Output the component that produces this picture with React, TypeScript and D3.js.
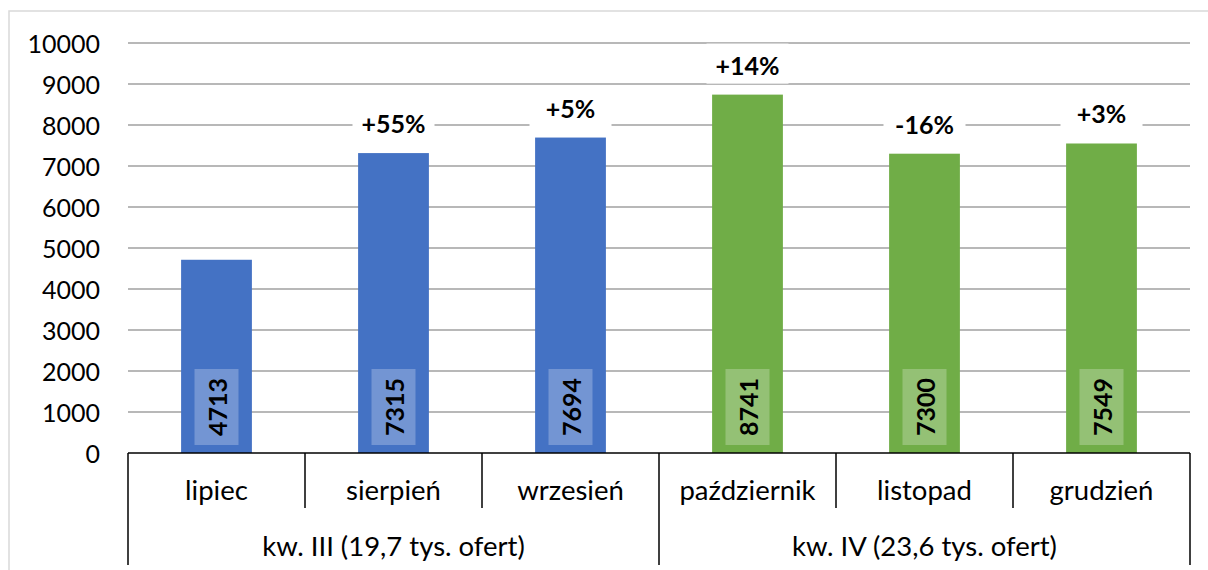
import React from 'react';
import * as d3 from 'd3';

const months = ['lipiec', 'sierpień', 'wrzesień', 'październik', 'listopad', 'grudzień'];
const offers = [4713, 7315, 7694, 8741, 7300, 7549];
const changes = ['', '+55%', '+5%', '+14%', '-16%', '+3%'];
const quarterOf = [0, 0, 0, 1, 1, 1];
const quarters = ['kw. III (19,7 tys. ofert)', 'kw. IV (23,6 tys. ofert)'];
const quarterColors = ['#4472C4', '#70AD47'];
const yTicks = [0, 1000, 2000, 3000, 4000, 5000, 6000, 7000, 8000, 9000, 10000];

const W = 1208;
const H = 570;
const left = 128;
const right = 1190;
const top = 43;
const base = 453;
const font = 'Lato, "Open Sans", sans-serif';

const App = () => {
  const x = d3.scaleBand<string>()
    .domain(months)
    .range([left, right])
    .paddingInner(0.6)
    .paddingOuter(0.3);
  const step = x.step();
  const y = d3.scaleLinear().domain([0, 10000]).range([base, top]);

  // quarter edges: first and last band boundaries of each group
  const edges = d3.range(months.length + 1).map(i => left + i * step);

  return (
    <svg width={W} height={H} style={{ position: 'absolute', left: 0, top: 0, background: '#fff' }}
      fontFamily={font}>
      <rect x={9} y={11} width={W + 20} height={H + 20} fill="none" stroke="#D9D9D9" strokeWidth={1.5} />

      {/* gridlines + tick labels */}
      {yTicks.map(t => (
        <g key={t}>
          {t > 0 && <line x1={left} x2={right} y1={y(t)} y2={y(t)} stroke="#A0A0A0" strokeWidth={1.5} />}
          <text x={100} y={y(t)} textAnchor="end" dominantBaseline="central" fontSize={25} fill="#000">{t}</text>
        </g>
      ))}

      {/* bars */}
      {months.map((m, i) => {
        const bx = x(m)!;
        const bw = x.bandwidth();
        const cx = bx + bw / 2;
        return (
          <g key={m}>
            <rect x={bx} y={y(offers[i])} width={bw} height={base - y(offers[i])} fill={quarterColors[quarterOf[i]]} />
            <rect x={cx - 22} y={base - 84} width={44} height={76} fill="#fff" fillOpacity={0.25} />
            <text transform={`translate(${cx},${base - 46}) rotate(-90)`} textAnchor="middle" dominantBaseline="central"
              fontSize={25} fontWeight="bold" fill="#000">{offers[i]}</text>
            {changes[i] && (
              <g>
                <rect x={cx - 41} y={y(offers[i]) - 51} width={82} height={40} fill="#fff" />
                <text x={cx} y={y(offers[i]) - 30} textAnchor="middle" dominantBaseline="central"
                  fontSize={25} fontWeight="bold" fill="#000">{changes[i]}</text>
              </g>
            )}
          </g>
        );
      })}

      {/* category axis */}
      <line x1={left} x2={right} y1={base} y2={base} stroke="#000" strokeWidth={1.5} />
      {edges.map((ex, i) => {
        const isQuarter = i % 3 === 0;
        return <line key={i} x1={ex} x2={ex} y1={base} y2={isQuarter ? 565 : 508} stroke="#000" strokeWidth={1.5} />;
      })}
      {months.map(m => (
        <text key={m} x={x(m)! + x.bandwidth() / 2} y={489} textAnchor="middle" dominantBaseline="central"
          fontSize={27.5} fill="#000">{m}</text>
      ))}
      {quarters.map((q, qi) => (
        <text key={q} x={left + step * (qi * 3 + 1.5)} y={545} textAnchor="middle" dominantBaseline="central"
          fontSize={27.5} fill="#000">{q}</text>
      ))}
    </svg>
  );
};

export default App;
